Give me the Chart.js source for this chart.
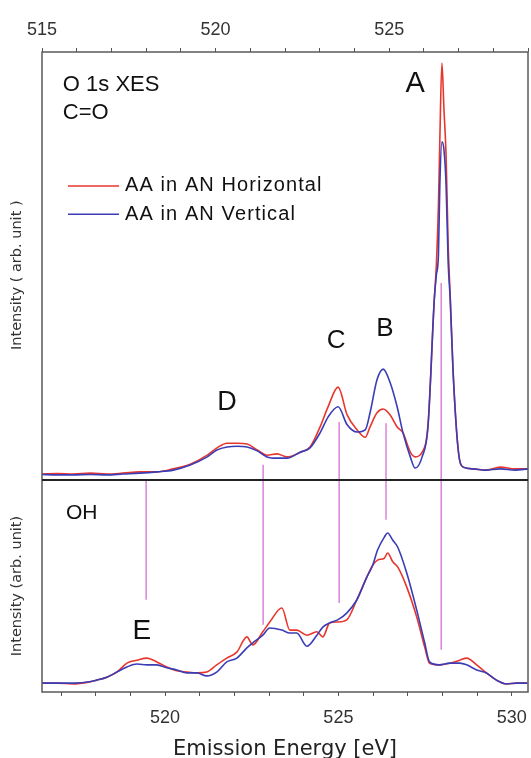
<!DOCTYPE html>
<html>
<head>
<meta charset="utf-8">
<script src="https://cdn.jsdelivr.net/npm/chart.js@4"></script>
<style>
  html, body { margin: 0; padding: 0; background: #fff; }
  canvas { display: block; }
</style>
</head>
<body>
<canvas id="xes" width="531" height="758"></canvas>
<script>
// C=O panel, read on the top energy scale (eV)
const topEnergy = [515.00, 515.45, 515.89, 516.40, 516.87, 517.33, 517.82, 518.31, 518.78, 519.27,
  519.76, 520.04, 520.33, 520.62, 520.91, 521.20, 521.48, 521.77, 522.06, 522.44,
  522.72, 523.01, 523.24, 523.53, 523.79, 524.08, 524.31, 524.45, 524.65, 524.83,
  525.03, 525.23, 525.40, 525.61, 525.75, 525.95, 526.12, 526.30, 526.36, 526.42,
  526.46, 526.52, 526.58, 526.64, 526.70, 526.76, 526.84, 526.99, 527.13, 527.42,
  527.77, 528.20, 528.63, 529.00];
const topHorizontal = [1.4, 1.5, 1.4, 1.6, 1.4, 1.6, 1.9, 1.9, 2.6, 3.7,
  5.8, 7.5, 8.6, 8.6, 8.4, 7.0, 5.8, 6.1, 5.4, 6.5,
  7.7, 12.4, 17.1, 21.7, 15.2, 11.7, 10.0, 12.4, 15.7, 16.6,
  15.2, 12.4, 11.0, 6.5, 5.4, 6.5, 13.0, 42.1, 50.2, 64.3,
  79.4, 97.4, 86.4, 75.9, 55.1, 42.8, 25.7, 7.0, 3.0, 2.6,
  2.3, 3.0, 2.6, 2.6];
const topVertical = [1.3, 1.2, 1.2, 1.3, 1.2, 1.4, 1.6, 1.9, 2.3, 3.5,
  5.4, 7.0, 7.7, 7.9, 7.7, 6.8, 5.4, 5.1, 5.1, 6.5,
  7.5, 11.0, 14.7, 17.1, 12.9, 11.2, 11.7, 15.7, 23.4, 25.9,
  22.7, 17.1, 11.0, 5.4, 2.8, 5.4, 12.5, 42.1, 47.9, 52.6,
  68.9, 79.0, 77.1, 68.9, 50.9, 42.1, 25.7, 7.0, 3.0, 2.6,
  2.3, 2.6, 2.3, 2.6];

// OH panel, read on the bottom energy scale (eV)
const botEnergy = [516.45, 516.88, 517.34, 517.83, 518.03, 518.32, 518.61, 518.90, 519.19, 519.48,
  519.76, 520.05, 520.34, 520.63, 520.92, 521.20, 521.49, 521.78, 522.07, 522.36,
  522.53, 522.82, 523.02, 523.37, 523.60, 523.80, 524.09, 524.38, 524.55, 524.75,
  524.98, 525.24, 525.53, 525.82, 525.99, 526.13, 526.33, 526.42, 526.57, 526.71,
  526.97, 527.26, 527.49, 527.63, 527.92, 528.21, 528.50, 528.70, 528.99, 529.27,
  529.56, 529.85, 530.14, 530.45];
const botHorizontal = [2.1, 2.1, 1.9, 2.4, 2.8, 3.5, 4.7, 6.8, 7.5, 8.0,
  7.1, 5.9, 5.0, 4.7, 4.5, 4.7, 6.4, 8.0, 9.4, 13.0,
  11.1, 14.2, 16.5, 19.8, 14.6, 14.6, 13.4, 14.2, 13.0, 16.3,
  16.5, 17.0, 21.7, 27.1, 29.9, 31.1, 31.6, 32.8, 30.7, 29.5,
  24.8, 17.7, 10.6, 6.8, 6.4, 6.8, 7.5, 8.0, 6.4, 4.5,
  2.8, 1.9, 2.1, 2.1];
const botVertical = [2.1, 2.1, 2.1, 2.4, 2.8, 3.5, 4.7, 5.9, 6.6, 6.4,
  6.4, 5.7, 5.2, 4.5, 4.5, 3.8, 4.7, 7.1, 8.0, 10.4,
  11.6, 13.4, 15.1, 14.6, 13.9, 13.9, 10.8, 13.4, 15.3, 16.3,
  17.0, 18.6, 21.7, 27.1, 29.9, 33.5, 36.6, 37.5, 35.8, 34.2,
  28.1, 19.3, 11.6, 7.1, 6.4, 6.8, 6.8, 6.4, 5.2, 4.5,
  2.8, 1.9, 2.1, 2.1];

// guide lines: energy on the top scale, extent in percent of the whole plot height
const guideEnergy = [518.0, 521.37, 523.56, 524.91, 526.5];
const guideFrom = [14.4, 10.5, 13.9, 26.9, 6.6];
const guideTo = [33.1, 35.5, 42.2, 42.0, 63.9];

const seriesNames = ["AA in AN Horizontal", "AA in AN Vertical"];
const topTickLabels = [515, 520, 525];
const botTickLabels = [520, 525, 530];

const RED = "#e8362c";
const BLUE = "#3a3db6";
const PINK = "#d983d6";

function pts(xs, ys) {
  return xs.map((x, i) => ({x: x, y: ys[i]}));
}

// text written inside the panels, positioned in data units
const notes = [
  {text: "O 1s XES", x: 515.6, y: 92.3, axis: "yTop", size: 22, align: "left"},
  {text: "C=O", x: 515.6, y: 85.7, axis: "yTop", size: 22, align: "left"},
  {text: "A", x: 525.75, y: 92.5, axis: "yTop", size: 29, align: "center"},
  {text: "B", x: 524.88, y: 35.3, axis: "yTop", size: 26, align: "center"},
  {text: "C", x: 523.47, y: 32.5, axis: "yTop", size: 26, align: "center"},
  {text: "D", x: 520.33, y: 18.0, axis: "yTop", size: 27, align: "center"},
  {text: "OH", x: 517.14, y: 42.2, axis: "yBot", size: 21, align: "left"},
  {text: "E", x: 519.33, y: 14.4, axis: "yBot", size: 28, align: "center"}
];

const overlay = {
  id: "overlay",
  afterDatasetsDraw(chart) {
    const {ctx, chartArea: a, scales} = chart;
    ctx.save();

    // frame and panel divider
    ctx.strokeStyle = "#5a5a5a";
    ctx.lineWidth = 1.5;
    ctx.strokeRect(a.left, a.top, a.right - a.left, a.bottom - a.top);
    const yd = scales.yBot.top;
    ctx.strokeStyle = "#222";
    ctx.lineWidth = 2;
    ctx.beginPath();
    ctx.moveTo(a.left, yd);
    ctx.lineTo(a.right, yd);
    ctx.stroke();

    // notes
    ctx.fillStyle = "#111";
    ctx.textBaseline = "middle";
    notes.forEach(n => {
      const xs = n.axis === "yTop" ? scales.xTop : scales.xBot;
      ctx.font = n.size + "px 'Liberation Sans', Arial, sans-serif";
      ctx.textAlign = n.align;
      ctx.fillText(n.text, xs.getPixelForValue(n.x), scales[n.axis].getPixelForValue(n.y));
    });

    // legend
    const legendY = [68.7, 62.1];
    ctx.font = "20px 'Liberation Sans', Arial, sans-serif";
    ctx.textAlign = "left";
    if ("letterSpacing" in ctx) ctx.letterSpacing = "1.1px";
    [RED, BLUE].forEach((c, i) => {
      const y = scales.yTop.getPixelForValue(legendY[i]);
      ctx.strokeStyle = c;
      ctx.lineWidth = 1.6;
      ctx.beginPath();
      ctx.moveTo(scales.xTop.getPixelForValue(515.75), y);
      ctx.lineTo(scales.xTop.getPixelForValue(517.22), y);
      ctx.stroke();
      ctx.fillText(seriesNames[i], scales.xTop.getPixelForValue(517.39), y);
    });
    ctx.restore();
  }
};

const datasets = [
  {label: seriesNames[0], data: pts(topEnergy, topHorizontal), xAxisID: "xTop", yAxisID: "yTop", borderColor: RED, order: 2},
  {label: seriesNames[1], data: pts(topEnergy, topVertical), xAxisID: "xTop", yAxisID: "yTop", borderColor: BLUE, order: 1},
  {label: seriesNames[0], data: pts(botEnergy, botHorizontal), xAxisID: "xBot", yAxisID: "yBot", borderColor: RED, order: 2},
  {label: seriesNames[1], data: pts(botEnergy, botVertical), xAxisID: "xBot", yAxisID: "yBot", borderColor: BLUE, order: 1}
];
guideEnergy.forEach((e, i) => {
  datasets.push({
    label: "guide",
    data: [{x: e, y: guideFrom[i]}, {x: e, y: guideTo[i]}],
    xAxisID: "xTop", yAxisID: "yFull",
    borderColor: PINK, borderWidth: 1.5,
    cubicInterpolationMode: "default", tension: 0,
    order: 3
  });
});

const tickFont = {family: "'Liberation Sans', Arial, sans-serif", size: 18};
const titleFont = {family: "'DejaVu Sans', sans-serif", size: 14.5};

// keep the plot box fixed: no extra room for edge labels
function noEdgePadding(s) {
  s.paddingLeft = 0;
  s.paddingRight = 0;
}

new Chart(document.getElementById("xes"), {
  type: "line",
  data: {datasets: datasets},
  options: {
    responsive: false,
    animation: false,
    devicePixelRatio: 1,
    layout: {padding: {left: 0, right: 3, top: 0, bottom: 0}},
    plugins: {legend: {display: false}, tooltip: {enabled: false}},
    elements: {
      point: {radius: 0},
      line: {borderWidth: 1.6, fill: false, cubicInterpolationMode: "monotone"}
    },
    scales: {
      xTop: {
        type: "linear", position: "top", min: 515, max: 529,
        ticks: {
          stepSize: 1, autoSkip: false, maxRotation: 0, padding: 7, color: "#333", font: tickFont,
          callback: v => topTickLabels.includes(v) ? String(v) : ""
        },
        grid: {drawOnChartArea: false, tickLength: 4, color: "#555"},
        border: {display: false},
        afterFit(s) { s.height = 52; noEdgePadding(s); }
      },
      xBot: {
        type: "linear", position: "bottom", min: 516.45, max: 530.47,
        ticks: {
          stepSize: 1, includeBounds: false, autoSkip: false, maxRotation: 0, padding: 11, color: "#333", font: tickFont,
          callback: v => botTickLabels.includes(v) ? String(v) : ""
        },
        grid: {drawOnChartArea: false, tickLength: 4, color: "#555"},
        border: {display: false},
        title: {
          display: true, text: "Emission Energy [eV]", color: "#222",
          font: {family: "'DejaVu Sans', sans-serif", size: 21, lineHeight: 1},
          padding: {top: 0, bottom: -2}
        },
        afterFit(s) { s.height = 66; noEdgePadding(s); }
      },
      yTop: {
        type: "linear", position: "left", stack: "panels", stackWeight: 428, weight: 1,
        min: 0, max: 100,
        ticks: {display: false}, grid: {display: false}, border: {display: false},
        title: {display: true, text: "Intensity ( arb. unit )    ", color: "#333", font: titleFont, padding: {top: 9, bottom: 0}},
        afterFit(s) { s.width = 42; }
      },
      yBot: {
        type: "linear", position: "left", stack: "panels", stackWeight: 212, weight: 0,
        min: 0, max: 50,
        ticks: {display: false}, grid: {display: false}, border: {display: false},
        title: {display: true, text: "Intensity (arb. unit)", color: "#333", font: titleFont, padding: {top: 9, bottom: 0}},
        afterFit(s) { s.width = 42; }
      },
      yFull: {type: "linear", position: "right", display: false, min: 0, max: 100}
    }
  },
  plugins: [overlay]
});
</script>
</body>
</html>
